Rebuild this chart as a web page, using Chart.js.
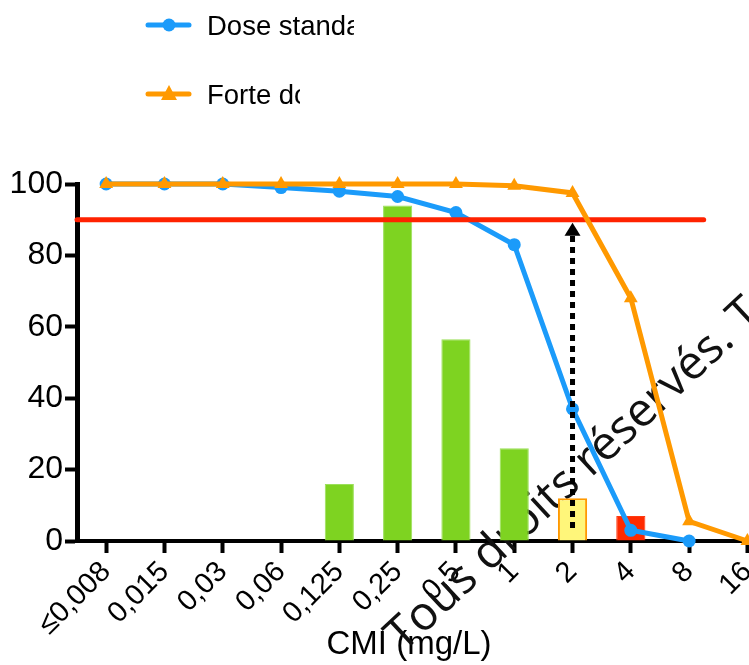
<!DOCTYPE html>
<html>
<head>
<meta charset="utf-8">
<script src="https://cdn.jsdelivr.net/npm/chart.js@4"></script>
<style>
  html, body { margin: 0; padding: 0; background: white; overflow: hidden; }
  #wrap { width: 749px; height: 665px; }
</style>
</head>
<body>
<div id="wrap"><canvas id="cmiChart" width="749" height="665"></canvas></div>
<script>
// CMI (mg/L) categories
const categories = ['≤0,008','0,015','0,03','0,06','0,125','0,25','0,5','1','2','4','8','16'];
// % probability of target attainment
const doseStandard = [100, 100, 100, 99, 98, 96.5, 92, 83, 37, 3, 0, null];
const forteDose = [100, 100, 100, 100, 100, 100, 100, 99.5, 97.5, 68, 5.5, 0];
// distribution of CMI (%)
const distribution = [null, null, null, null, 16, 94, 56.5, 26, 12, 7, null, null];
const yTicks = [0, 20, 40, 60, 80, 100];
const seuil = 90;
const seuilFin = 10.25;     // end of threshold line, in category units
const flecheIndex = 8;      // arrow at CMI = 2
const xMin = -0.5, xMax = 10.89;

const barFill = ['#7ED321','#7ED321','#7ED321','#7ED321','#7ED321','#7ED321','#7ED321','#7ED321','#FFF67A','#FF2A00','#FF2A00','#FF2A00'];
const barBorder = ['#9BE05A','#9BE05A','#9BE05A','#9BE05A','#9BE05A','#9BE05A','#9BE05A','#9BE05A','#FF9900','#FF3A10','#FF3A10','#FF3A10'];

const BLUE = '#1B9BFA';
const ORANGE = '#FF9900';
const RED = '#FF2200';

const xy = arr => arr.map((v, i) => ({ x: i, y: v }));

// custom legend + arrow + watermark
const extras = {
    id: 'extras',
    beforeDatasetsDraw(chart) {
        const c = chart.ctx;
        c.save();
        c.font = '47px "Open Sans"';
        const lead = c.measureText('Tous droits ').width;
        c.translate(591, 478);
        c.rotate(-43 * Math.PI / 180);
        c.fillStyle = '#111';
        c.textBaseline = 'alphabetic';
        c.fillText('Tous droits réservés. Tous droits réservés.', -lead, 0);
        c.restore();
    },
    afterDatasetsDraw(chart) {
        const c = chart.ctx;
        const xs = chart.scales.x, ys = chart.scales.y;
        const x = xs.getPixelForValue(flecheIndex);
        const yBas = ys.getPixelForValue(0) - 13;
        const yTip = ys.getPixelForValue(seuil) + 3;
        c.save();
        c.strokeStyle = '#000';
        c.lineWidth = 5;
        c.setLineDash([6, 5]);
        c.beginPath();
        c.moveTo(x, yBas);
        c.lineTo(x, yTip + 12);
        c.stroke();
        c.setLineDash([]);
        c.fillStyle = '#000';
        c.beginPath();
        c.moveTo(x, yTip);
        c.lineTo(x - 8, yTip + 13);
        c.lineTo(x + 8, yTip + 13);
        c.closePath();
        c.fill();
        c.restore();
    },
    afterDraw(chart) {
        const c = chart.ctx;
        const items = [
            { text: 'Dose standard', color: BLUE, shape: 'circle', y: 25, clip: 354 },
            { text: 'Forte dose', color: ORANGE, shape: 'triangle', y: 94, clip: 300 }
        ];
        items.forEach(it => {
            c.save();
            c.strokeStyle = it.color;
            c.fillStyle = it.color;
            c.lineWidth = 5;
            c.lineCap = 'round';
            c.beginPath();
            c.moveTo(148, it.y);
            c.lineTo(189, it.y);
            c.stroke();
            c.beginPath();
            if (it.shape === 'circle') {
                c.arc(169, it.y, 6.5, 0, Math.PI * 2);
            } else {
                c.moveTo(169, it.y - 9);
                c.lineTo(161, it.y + 6);
                c.lineTo(177, it.y + 6);
                c.closePath();
            }
            c.fill();
            c.beginPath();
            c.rect(200, it.y - 30, it.clip - 200, 60);
            c.clip();
            c.fillStyle = '#000';
            c.font = '27.5px "Liberation Sans"';
            c.textBaseline = 'alphabetic';
            c.fillText(it.text, 207, it.y + 10);
            c.restore();
        });
    }
};

const ctx = document.getElementById('cmiChart').getContext('2d');

new Chart(ctx, {
    data: {
        datasets: [
            {
                type: 'line',
                label: 'Forte dose',
                data: xy(forteDose),
                borderColor: ORANGE,
                backgroundColor: ORANGE,
                borderWidth: 5,
                pointStyle: 'triangle',
                pointRadius: 8,
                pointBorderWidth: 0,
                clip: false,
                order: 1
            },
            {
                type: 'line',
                label: 'Seuil',
                data: [{ x: xMin, y: seuil }, { x: seuilFin, y: seuil }],
                borderColor: RED,
                borderWidth: 5,
                borderCapStyle: 'round',
                pointRadius: 0,
                clip: false,
                order: 2
            },
            {
                type: 'line',
                label: 'Dose standard',
                data: xy(doseStandard),
                borderColor: BLUE,
                backgroundColor: BLUE,
                borderWidth: 5,
                pointStyle: 'circle',
                pointRadius: 6.5,
                pointBorderWidth: 0,
                clip: false,
                order: 3
            },
            {
                type: 'bar',
                label: 'Distribution',
                data: xy(distribution),
                backgroundColor: barFill,
                borderColor: barBorder,
                borderWidth: [1,1,1,1,1,1,1,1,2,1,1,1],
                borderSkipped: 'bottom',
                barPercentage: 0.5,
                categoryPercentage: 1,
                order: 4
            }
        ]
    },
    options: {
        responsive: false,
        animation: false,
        layout: { padding: { top: 184, left: 0, right: 0, bottom: 0 } },
        plugins: {
            legend: { display: false },
            tooltip: { enabled: false }
        },
        scales: {
            x: {
                type: 'linear',
                min: xMin,
                max: xMax,
                bounds: 'data',
                offset: false,
                afterBuildTicks: s => {
                    s.ticks = categories.map((c, i) => ({ value: i }));
                },
                afterFit: s => {
                    s.height = 124;
                    s.paddingLeft = 0;
                    s.paddingRight = 0;
                },
                ticks: {
                    color: '#000',
                    font: { family: 'Liberation Sans', size: 29 },
                    minRotation: 45,
                    maxRotation: 45,
                    padding: 2,
                    autoSkip: false,
                    callback: v => categories[v]
                },
                grid: {
                    offset: false,
                    drawOnChartArea: false,
                    drawTicks: true,
                    tickLength: 12,
                    tickWidth: 4,
                    tickColor: '#000'
                },
                border: { display: true, color: '#000', width: 4 },
                title: {
                    display: true,
                    text: 'CMI (mg/L)',
                    color: '#000',
                    font: { family: 'Liberation Sans', size: 33 },
                    padding: 0
                }
            },
            y: {
                min: 0,
                max: 100,
                afterBuildTicks: s => { s.ticks = yTicks.map(v => ({ value: v })); },
                afterFit: s => { s.width = 77; },
                ticks: {
                    color: '#000',
                    font: { family: 'Liberation Sans', size: 32 },
                    padding: 2
                },
                grid: {
                    drawOnChartArea: false,
                    drawTicks: true,
                    tickLength: 12,
                    tickWidth: 4,
                    tickColor: '#000'
                },
                border: { display: true, color: '#000', width: 5 }
            }
        }
    },
    plugins: [extras]
});

ctx.canvas.style.backgroundColor = 'white';
</script>
</body>
</html>
